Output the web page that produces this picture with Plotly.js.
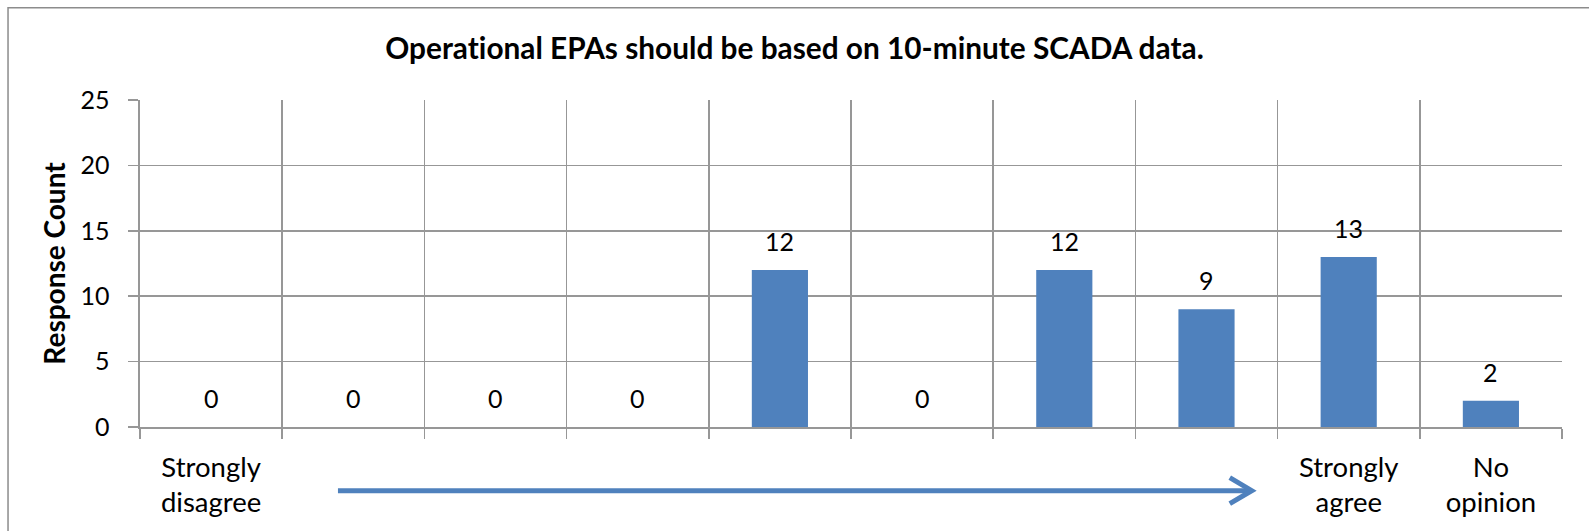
<!DOCTYPE html>
<html>
<head>
<meta charset="utf-8">
<script src="https://cdn.plot.ly/plotly-3.0.1.min.js"></script>
<style>
html,body{margin:0;padding:0;background:#fff;}
#chart{width:1589px;height:531px;}
svg text{font-variant-ligatures:none;font-feature-settings:"liga" 0;}
</style>
</head>
<body>
<div id="chart"></div>
<script>
const categories = ['1', '2', '3', '4', '5', '6', '7', '8', '9', 'No opinion'];
const responseCounts = [0, 0, 0, 0, 12, 0, 12, 9, 13, 2];
const tickLabels = ['Strongly<br>disagree', '', '', '', '', '', '', '', 'Strongly<br>agree', 'No<br>opinion'];
const yTicks = [0, 5, 10, 15, 20, 25];

const FONT = 'Lato, "Open Sans", sans-serif';
const GRID = '#979797';
const BLUE = '#4F81BD';

const trace = {
  type: 'bar',
  x: categories,
  y: responseCounts,
  marker: { color: BLUE },
  hoverinfo: 'skip'
};

// data labels: x given as the category index so numeric-looking names are not misread
const labelAnnotations = categories.map((c, i) => ({
  x: i, y: responseCounts[i], xref: 'x', yref: 'y',
  text: String(responseCounts[i]), showarrow: false,
  yanchor: 'bottom', yshift: 12,
  font: { family: FONT, size: 25, color: '#000' }
}));

const layout = {
  width: 1589, height: 531,
  margin: { l: 140, r: 26.7, t: 100.3, b: 103.7, pad: 0 },
  paper_bgcolor: '#fff', plot_bgcolor: '#fff',
  showlegend: false,
  bargap: 0.605,
  font: { family: FONT, color: '#000' },
  title: {
    text: 'Operational EPAs should be based on 10-minute SCADA data.',
    font: { family: FONT, size: 29.8, color: '#000', weight: 'bold' },
    x: 0.5, xref: 'container', xanchor: 'center',
    y: 1 - 49 / 531, yref: 'container', yanchor: 'middle'
  },
  xaxis: {
    type: 'category',
    tickson: 'boundaries',
    tickmode: 'array', tickvals: categories, ticktext: tickLabels,
    ticks: 'outside', ticklen: 10, tickcolor: GRID, tickwidth: 1.6,
    showgrid: true, gridcolor: GRID, gridwidth: 1.6,
    showline: true, linecolor: GRID, linewidth: 1.6,
    tickfont: { family: FONT, size: 27.5, color: '#000' },
    ticklabelstandoff: 15,
    fixedrange: true
  },
  yaxis: {
    range: [0, 25],
    tickmode: 'array', tickvals: yTicks,
    ticks: 'outside', ticklen: 10, tickcolor: GRID, tickwidth: 1.6,
    showgrid: true, gridcolor: GRID, gridwidth: 1.6,
    zeroline: false,
    showline: true, linecolor: GRID, linewidth: 1.6,
    tickfont: { family: FONT, size: 25, color: '#000' },
    ticklabelstandoff: 14,
    title: {
      text: 'Response Count',
      font: { family: FONT, size: 28, color: '#000', weight: 'bold' },
      standoff: 6
    },
    fixedrange: true
  },
  annotations: labelAnnotations,
  shapes: [
    { type: 'rect', xref: 'paper', yref: 'paper',
      x0: (8 - 140) / 1422.3, x1: 1.2, y0: -0.6, y1: (427.3 - 8) / 327,
      line: { color: '#8c8c8c', width: 1.5 }, fillcolor: 'rgba(0,0,0,0)', layer: 'below' },
    { type: 'line', xref: 'paper', yref: 'paper',
      x0: (338 - 140) / 1422.3, x1: (1250 - 140) / 1422.3,
      y0: (427.3 - 491) / 327, y1: (427.3 - 491) / 327,
      line: { color: BLUE, width: 5 } },
    { type: 'path', xref: 'paper', yref: 'paper',
      path: 'M ' + ((1230 - 140) / 1422.3) + ',' + ((427.3 - 478) / 327) +
            ' L ' + ((1252 - 140) / 1422.3) + ',' + ((427.3 - 491) / 327) +
            ' L ' + ((1230 - 140) / 1422.3) + ',' + ((427.3 - 504) / 327),
      line: { color: BLUE, width: 5 }, fillcolor: 'rgba(0,0,0,0)' }
  ]
};

Plotly.newPlot('chart', [trace], layout, { displayModeBar: false, staticPlot: true });
</script>
</body>
</html>
